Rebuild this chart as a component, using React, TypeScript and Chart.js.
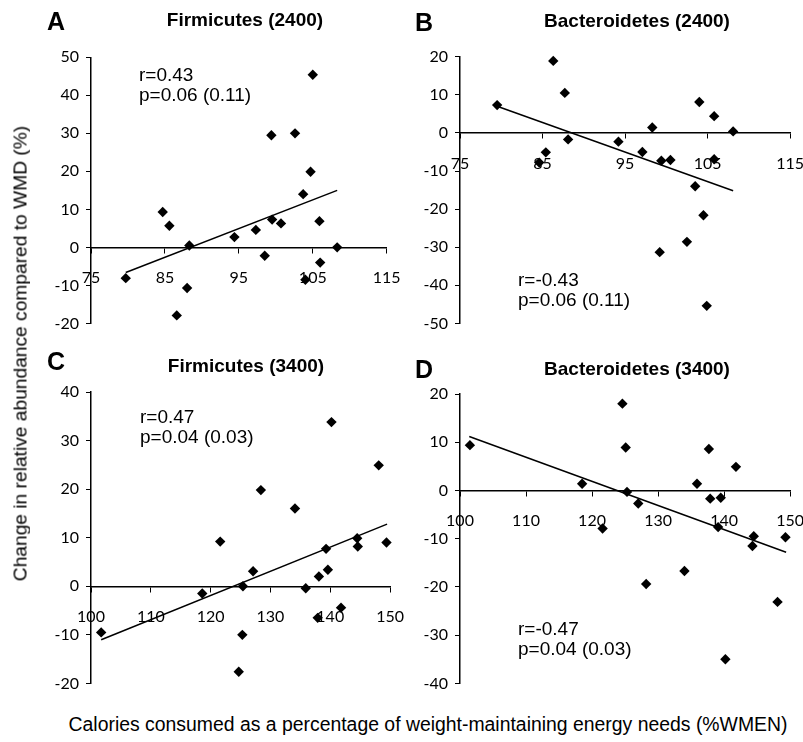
import React, { useEffect, useRef } from 'react';
import { Chart, registerables } from 'chart.js';

Chart.register(...registerables);

// ---------- Panel A: Firmicutes (2400) ----------
const aX = [79.7, 84.7, 85.6, 88.3, 88.0, 86.6, 94.4, 97.3, 98.5, 99.4, 99.5, 100.7, 102.6, 103.7, 104.7, 105.0, 104.0, 105.9, 106.0, 108.3];
const aY = [-8.1, 9.3, 5.7, 0.5, -10.7, -17.9, 2.7, 4.6, -2.2, 29.5, 7.3, 6.3, 30.0, 14.0, 19.9, 45.4, -8.5, 6.9, -4.0, 0.0];
const aTrendX = [79.7, 108.3];
const aTrendY = [-6.6, 15.0];
const aXTicks = [75, 85, 95, 105, 115];
const aYTicks = [-20, -10, 0, 10, 20, 30, 40, 50];

// ---------- Panel B: Bacteroidetes (2400) ----------
const bX = [79.5, 86.3, 87.7, 88.1, 85.4, 84.6, 94.2, 97.1, 98.3, 99.4, 100.5, 99.2, 102.5, 103.5, 104.0, 104.5, 104.9, 105.8, 105.8, 108.1];
const bY = [7.3, 18.9, 10.5, -1.7, -5.1, -7.8, -2.3, -5.0, 1.4, -7.3, -7.1, -31.3, -28.6, -14.0, 8.1, -21.6, -45.4, 4.4, -6.9, 0.4];
const bTrendX = [79.5, 108.1];
const bTrendY = [7.0, -15.2];
const bXTicks = [75, 85, 95, 105, 115];
const bYTicks = [-50, -40, -30, -20, -10, 0, 10, 20];

// ---------- Panel C: Firmicutes (3400) ----------
const cX = [101.7, 118.6, 121.6, 124.7, 125.3, 125.4, 127.1, 128.4, 134.1, 135.9, 137.9, 138.1, 139.3, 139.6, 140.2, 141.8, 144.5, 144.6, 148.1, 149.4];
const cY = [-9.5, -1.5, 9.2, -17.6, -10.0, 0.0, 3.1, 19.8, 16.0, -0.4, -6.5, 2.0, 7.7, 3.4, 33.8, -4.4, 9.9, 8.2, 24.9, 9.0];
const cTrendX = [101.7, 149.5];
const cTrendY = [-11.0, 12.8];
const cXTicks = [100, 110, 120, 130, 140, 150];
const cYTicks = [-20, -10, 0, 10, 20, 30, 40];

// ---------- Panel D: Bacteroidetes (3400) ----------
const dX = [101.5, 118.5, 121.6, 124.6, 125.1, 125.3, 127.0, 128.2, 134.0, 135.9, 137.7, 137.9, 139.5, 139.1, 140.2, 141.8, 144.5, 144.3, 148.1, 149.3];
const dY = [9.4, 1.4, -7.9, 18.0, 8.9, -0.3, -2.7, -19.4, -16.7, 1.4, 8.6, -1.7, -1.5, -7.6, -35.0, 4.9, -9.5, -11.5, -23.1, -9.7];
const dTrendX = [101.4, 149.4];
const dTrendY = [11.2, -12.8];
const dXTicks = [100, 110, 120, 130, 140, 150];
const dYTicks = [-40, -30, -20, -10, 0, 10, 20];

const panelTitles = ['Firmicutes (2400)', 'Bacteroidetes (2400)', 'Firmicutes (3400)', 'Bacteroidetes (3400)'];
const panelLetters = ['A', 'B', 'C', 'D'];
const statR = ['r=0.43', 'r=-0.43', 'r=0.47', 'r=-0.47'];
const statP = ['p=0.06 (0.11)', 'p=0.06 (0.11)', 'p=0.04 (0.03)', 'p=0.04 (0.03)'];
const yTitle = 'Change in relative abundance compared to WMD (%)';
const xTitle = 'Calories consumed as a percentage of weight-maintaining energy needs (%WMEN)';

const TICK_FONT = { family: 'Lato, "Open sans", sans-serif', size: 16 };
const ARIAL = '"Liberation Sans", Arial, sans-serif';

type PanelProps = {
  xs: number[]; ys: number[]; tx: number[]; ty: number[];
  xTicks: number[]; yTicks: number[];
  left: number; top: number; w: number; h: number;
  pad: { top: number; right: number; bottom: number; left: number };
  yWidth: number;
};

function Panel(p: PanelProps) {
  const ref = useRef<HTMLCanvasElement>(null);
  useEffect(() => {
    const gridOpts = { drawOnChartArea: false, drawTicks: true, tickLength: 5, color: '#000', lineWidth: 1 };
    const borderOpts = { display: true, color: '#000', width: 1.5 };
    const chart = new Chart(ref.current as HTMLCanvasElement, {
      type: 'scatter',
      data: {
        datasets: [
          {
            data: p.xs.map((x, i) => ({ x, y: p.ys[i] })),
            pointStyle: 'rectRot',
            pointRadius: 5.2,
            pointHoverRadius: 5.2,
            backgroundColor: '#000',
            borderColor: '#000',
            borderWidth: 0,
            showLine: false,
            clip: false,
          } as any,
          {
            data: p.tx.map((x, i) => ({ x, y: p.ty[i] })),
            showLine: true,
            borderColor: '#000',
            borderWidth: 1.5,
            pointRadius: 0,
            pointHoverRadius: 0,
            fill: false,
            clip: false,
          } as any,
        ],
      },
      options: {
        animation: false,
        responsive: false,
        maintainAspectRatio: false,
        events: [],
        layout: { padding: p.pad },
        plugins: { legend: { display: false }, tooltip: { enabled: false }, title: { display: false } },
        scales: {
          x: {
            type: 'linear',
            position: { y: 0 } as any,
            min: p.xTicks[0],
            max: p.xTicks[p.xTicks.length - 1],
            afterBuildTicks: (s: any) => { s.ticks = p.xTicks.map((v) => ({ value: v })); },
            grid: gridOpts,
            border: borderOpts,
            ticks: { color: '#000', font: TICK_FONT, padding: 16, maxRotation: 0, autoSkip: false },
          },
          y: {
            type: 'linear',
            position: 'left',
            min: p.yTicks[0],
            max: p.yTicks[p.yTicks.length - 1],
            afterBuildTicks: (s: any) => { s.ticks = p.yTicks.map((v) => ({ value: v })); },
            afterFit: (s: any) => { s.width = p.yWidth; },
            grid: gridOpts,
            border: borderOpts,
            ticks: { color: '#000', font: TICK_FONT, padding: 7, autoSkip: false },
          },
        },
      } as any,
    });
    return () => chart.destroy();
  }, []);
  return (
    <canvas
      ref={ref}
      width={p.w}
      height={p.h}
      style={{ position: 'absolute', left: p.left, top: p.top, width: p.w, height: p.h }}
    />
  );
}

const txt = (extra: React.CSSProperties): React.CSSProperties => ({
  position: 'absolute',
  fontFamily: ARIAL,
  color: '#000',
  whiteSpace: 'nowrap',
  zIndex: 2,
  ...extra,
});

export default function App() {
  const letterPos = [
    { left: 47, top: 9 },
    { left: 415, top: 10 },
    { left: 47, top: 349 },
    { left: 415, top: 357 },
  ];
  const titlePos = [
    { cx: 245, top: 9.5 },
    { cx: 637, top: 10.5 },
    { cx: 246, top: 355.5 },
    { cx: 637, top: 358.5 },
  ];
  const statPos = [
    { left: 139, top: 65 },
    { left: 518, top: 270 },
    { left: 140, top: 407 },
    { left: 518, top: 619 },
  ];
  return (
    <div style={{ position: 'absolute', left: 0, top: 0, width: 803, height: 742, overflow: 'hidden', background: '#fff' }}>
      <Panel xs={aX} ys={aY} tx={aTrendX} ty={aTrendY} xTicks={aXTicks} yTicks={aYTicks}
        left={0} top={0} w={420} h={340} pad={{ top: 57.3, right: 33.3, bottom: 16.3, left: 0 }} yWidth={91} />
      <Panel xs={bX} ys={bY} tx={bTrendX} ty={bTrendY} xTicks={bXTicks} yTicks={bYTicks}
        left={400} top={0} w={420} h={340} pad={{ top: 56.7, right: 28.3, bottom: 11.7, left: 0 }} yWidth={60} />
      <Panel xs={cX} ys={cY} tx={cTrendX} ty={cTrendY} xTicks={cXTicks} yTicks={cYTicks}
        left={0} top={340} w={420} h={360} pad={{ top: 52, right: 29.3, bottom: 12.7, left: 0 }} yWidth={91} />
      <Panel xs={dX} ys={dY} tx={dTrendX} ty={dTrendY} xTicks={dXTicks} yTicks={dYTicks}
        left={400} top={340} w={420} h={360} pad={{ top: 54, right: 28.3, bottom: 12.7, left: 0 }} yWidth={60} />

      {panelLetters.map((l, i) => (
        <div key={'l' + i} style={txt({ left: letterPos[i].left, top: letterPos[i].top, fontSize: 25, lineHeight: '25px', fontWeight: 'bold' })}>{l}</div>
      ))}
      {panelTitles.map((t, i) => (
        <div key={'t' + i} style={txt({ left: titlePos[i].cx - 150, width: 300, textAlign: 'center', top: titlePos[i].top, fontSize: 19, lineHeight: '19px', fontWeight: 'bold' })}>{t}</div>
      ))}
      {statR.map((r, i) => (
        <div key={'s' + i} style={txt({ left: statPos[i].left, top: statPos[i].top, fontSize: 19, lineHeight: '20px' })}>
          <div>{r}</div>
          <div>{statP[i]}</div>
        </div>
      ))}
      <div style={txt({ left: 20 - 260, top: 353 - 9.5, width: 520, textAlign: 'center', fontSize: 19.2, lineHeight: '19px', transform: 'rotate(-90deg)', transformOrigin: '50% 50%' })}>{yTitle}</div>
      <div style={txt({ left: 428 - 400, top: 714.5, width: 800, textAlign: 'center', fontSize: 19.4, lineHeight: '19px' })}>{xTitle}</div>
    </div>
  );
}
